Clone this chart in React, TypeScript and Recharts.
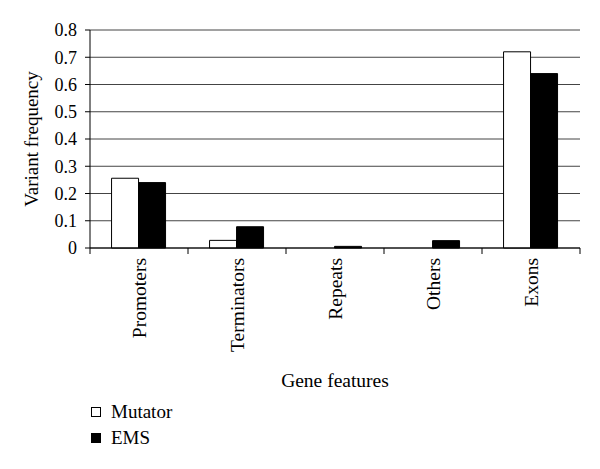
import { BarChart, Bar, XAxis, YAxis, CartesianGrid, Legend } from 'recharts';

const categories = ['Promoters', 'Terminators', 'Repeats', 'Others', 'Exons'];
const mutator = [0.256, 0.028, 0, 0, 0.72];
const ems = [0.24, 0.078, 0.006, 0.027, 0.64];
const yTicks = [0, 0.1, 0.2, 0.3, 0.4, 0.5, 0.6, 0.7, 0.8];
const seriesNames = ['Mutator', 'EMS'];

const data = categories.map((name, i) => ({ name, mutator: mutator[i], ems: ems[i] }));

const FONT = '"Liberation Serif", "Times New Roman", serif';

function CategoryTick(props: any) {
    const { x, y, payload, index, visibleTicksCount } = props;
    const count = visibleTicksCount || categories.length;
    const bw = (props.width || 490) / count;
    const left = x - bw / 2;
    const right = x + bw / 2;
    return (
        <g>
            <line x1={left} y1={y - 6} x2={left} y2={y} stroke="#000" />
            {index === count - 1 && <line x1={right} y1={y - 6} x2={right} y2={y} stroke="#000" />}
            <text
                x={x}
                y={y + 4}
                transform={`rotate(-90 ${x} ${y + 4})`}
                textAnchor="end"
                dominantBaseline="central"
                fontFamily={FONT}
                fontSize={19.5}
                fill="#000"
            >
                {payload.value}
            </text>
        </g>
    );
}

function LegendBox() {
    const fills = ['#fff', '#000'];
    return (
        <div style={{ paddingLeft: 91, fontFamily: FONT, fontSize: 19, color: '#000' }}>
            {seriesNames.map((n, i) => (
                <div key={n} style={{ display: 'flex', alignItems: 'center', height: 26 }}>
                    <span
                        style={{
                            display: 'inline-block',
                            width: 8,
                            height: 8,
                            background: fills[i],
                            border: '1px solid #000',
                            marginRight: 10,
                        }}
                    />
                    {n}
                </div>
            ))}
        </div>
    );
}

export default function App() {
    return (
        <div
            style={{
                position: 'absolute',
                left: 0,
                top: 0,
                width: 600,
                height: 469,
                background: '#fff',
                fontFamily: FONT,
            }}
        >
            <BarChart
                width={600}
                height={469}
                data={data}
                margin={{ top: 30, right: 20, bottom: 10, left: 0 }}
                barCategoryGap="22%"
                barGap={0}
            >
                <CartesianGrid vertical={false} stroke="#444" />
                <YAxis
                    width={90}
                    domain={[0, 0.8]}
                    ticks={yTicks}
                    interval={0}
                    tickSize={5}
                    tickMargin={8}
                    axisLine={{ stroke: '#000' }}
                    tickLine={{ stroke: '#000' }}
                    tick={{ fill: '#000', fontSize: 18, fontFamily: FONT }}
                    label={{
                        value: 'Variant frequency',
                        angle: -90,
                        position: 'insideLeft',
                        offset: 31,
                        style: { textAnchor: 'middle', fill: '#000', fontSize: 19, fontFamily: FONT },
                    }}
                />
                <XAxis
                    dataKey="name"
                    height={151}
                    interval={0}
                    tickSize={6}
                    tickMargin={0}
                    tickLine={false}
                    axisLine={{ stroke: '#000' }}
                    tick={<CategoryTick />}
                    label={{
                        value: 'Gene features',
                        position: 'insideBottom',
                        offset: 12,
                        style: { fill: '#000', fontSize: 19.5, fontFamily: FONT },
                    }}
                />
                <Legend verticalAlign="bottom" align="left" height={60} content={<LegendBox />} />
                <Bar dataKey="mutator" name="Mutator" fill="#fff" stroke="#000" strokeWidth={1} isAnimationActive={false} />
                <Bar dataKey="ems" name="EMS" fill="#000" stroke="#000" strokeWidth={1} isAnimationActive={false} />
            </BarChart>
        </div>
    );
}
